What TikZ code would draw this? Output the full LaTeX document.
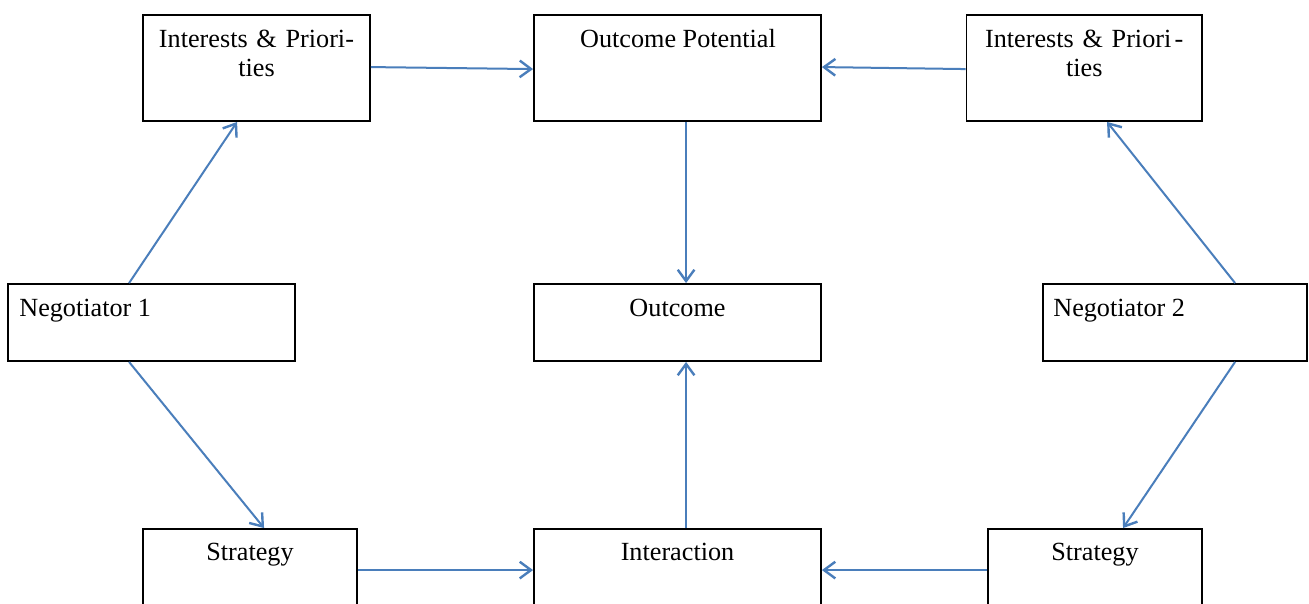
\documentclass[tikz,border=0pt]{standalone}
\usepackage{fontspec}
\setmainfont{Liberation Serif}
\usetikzlibrary{arrows.meta,calc}
\definecolor{arrowblue}{HTML}{4A7EBB}
\tikzset{
  box/.style={draw=black, line width=1.4pt, fill=white, inner sep=0pt, minimum height=#1},
  box/.default={79.5pt},
  txt/.style={inner sep=0pt, font=\fontsize{19.65pt}{21.75pt}\selectfont, text=black},
  arr/.style={draw=arrowblue, line width=1.5pt, -{Straight Barb[length=8.5pt,width=12.5pt,line width=1.8pt]}}
}
\begin{document}
\begin{tikzpicture}[x=0.75pt,y=-0.75pt]
\clip (0,0) rectangle (1309,603);
\fill[white] (0,0) rectangle (1309,603);
% boxes
\node[box, minimum width={227*0.75pt}] (ip1) at (256.5,68) {};
\node[box, minimum width={287*0.75pt}] (op) at (677.5,68) {};
\node[box, minimum width={235.5*0.75pt}] (ip2) at (1084.25,68) {};
\node[box={57.75pt}, minimum width={287*0.75pt}] (n1) at (151.5,322.5) {};
\node[box={57.75pt}, minimum width={287*0.75pt}] (out) at (677.5,322.5) {};
\node[box={57.75pt}, minimum width={264*0.75pt}] (n2) at (1175,322.5) {};
\node[box, minimum width={214*0.75pt}] (s1) at (250,582) {};
\node[box, minimum width={287*0.75pt}] (int) at (677.5,582) {};
\node[box, minimum width={214*0.75pt}] (s2) at (1095,582) {};
% texts
\node[txt, anchor=base, text width=180pt, align=center] (tip1) at ($(ip1.north)+(0,33.3)$) {Interests \& Priori-\\ties};
\node[txt, anchor=base] (top) at ($(op.north)+(0.5,33)$) {Outcome Potential};
\node[txt, anchor=base, text width=180pt, align=center] (tip2) at ($(ip2.north)+(0,33.3)$) {Interests \& Priori\hspace{2.5pt}-\\ties};
\node[txt, anchor=base west] (tn1) at ($(n1.north west)+(12,33)$) {Negotiator 1};
\node[txt, anchor=base] (tout) at ($(out.north)+(0,33)$) {Outcome};
\node[txt, anchor=base west] (tn2) at ($(n2.north west)+(11,33)$) {Negotiator 2};
\node[txt, anchor=base] (ts1) at ($(s1.north)+(0,32)$) {Strategy};
\node[txt, anchor=base] (tint) at ($(int.north)+(0,32)$) {Interaction};
\node[txt, anchor=base] (ts2) at ($(s2.north)+(0,32)$) {Strategy};
% connectors
\draw[arr] ($(n1.north west)+(122,0)$) -- ($(ip1.south west)+(95,0)$);
\draw[arr] ($(n1.south west)+(122,0)$) -- ($(s1.north west)+(122,0)$);
\draw[arr] ($(n2.north west)+(193,0)$) -- ($(ip2.south west)+(141.5,0)$);
\draw[arr] ($(n2.south west)+(193,0)$) -- ($(s2.north west)+(136,0)$);
\draw[arr] ($(ip1.north east)+(0,53)$) -- ($(op.north west)+(0,55)$);
\draw[arr] ($(ip2.north west)+(0,55)$) -- ($(op.north east)+(0,53)$);
\draw[arr] ($(op.south west)+(153,0)$) -- ($(out.north west)+(153,0)$);
\draw[arr] ($(int.north west)+(153,0)$) -- ($(out.south west)+(153,0)$);
\draw[arr] ($(s1.north east)+(0,42)$) -- ($(int.north west)+(0,42)$);
\draw[arr] ($(s2.north west)+(0,42)$) -- ($(int.north east)+(0,42)$);
\end{tikzpicture}
\end{document}
